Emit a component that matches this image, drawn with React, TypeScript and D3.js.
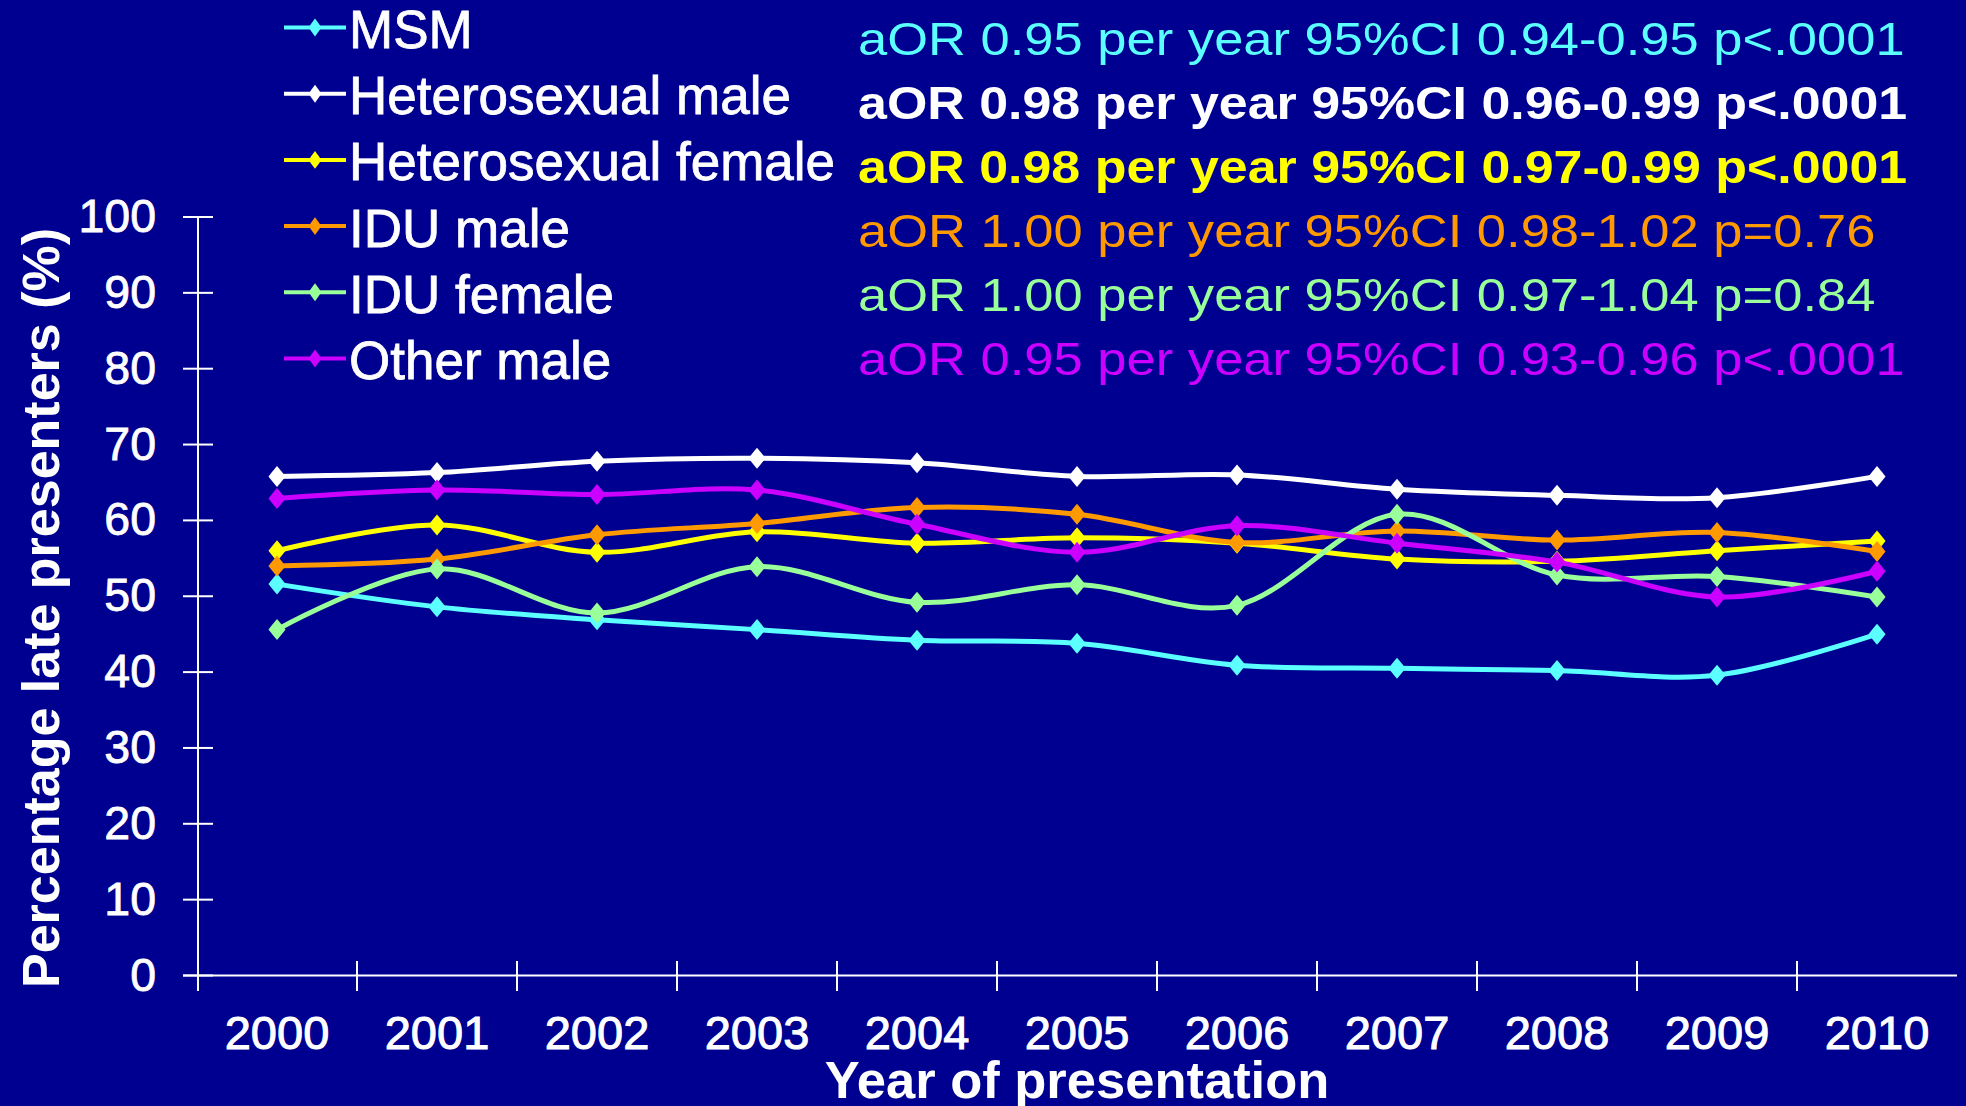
import React from "react";
import * as d3 from "d3";

const years = ["2000", "2001", "2002", "2003", "2004", "2005", "2006", "2007", "2008", "2009", "2010"];

const msm = [51.6, 48.6, 46.9, 45.6, 44.2, 43.8, 40.9, 40.5, 40.2, 39.6, 45.0];
const heteroMale = [65.8, 66.3, 67.8, 68.2, 67.6, 65.8, 66.0, 64.1, 63.3, 63.0, 65.8];
const heteroFemale = [56.0, 59.4, 55.8, 58.5, 57.0, 57.7, 57.0, 54.9, 54.6, 56.0, 57.3];
const iduMale = [54.0, 54.9, 58.1, 59.6, 61.7, 60.8, 57.1, 58.6, 57.4, 58.4, 55.9];
const iduFemale = [45.6, 53.6, 47.8, 53.9, 49.2, 51.5, 48.8, 60.8, 52.8, 52.6, 49.9];
const otherMale = [62.9, 64.0, 63.4, 64.0, 59.5, 55.8, 59.3, 57.0, 54.5, 49.9, 53.3];

const seriesNames = ["MSM", "Heterosexual male", "Heterosexual female", "IDU male", "IDU female", "Other male"];
const seriesValues = [msm, heteroMale, heteroFemale, iduMale, iduFemale, otherMale];
const seriesColors = ["#5CFFFF", "#FFFFFF", "#FFFF00", "#FF9900", "#99FF99", "#CC00FF"];

const statsTexts = [
  "aOR 0.95 per year 95%CI 0.94-0.95 p<.0001",
  "aOR 0.98 per year 95%CI 0.96-0.99 p<.0001",
  "aOR 0.98 per year 95%CI 0.97-0.99 p<.0001",
  "aOR 1.00 per year 95%CI 0.98-1.02 p=0.76",
  "aOR 1.00 per year 95%CI 0.97-1.04 p=0.84",
  "aOR 0.95 per year 95%CI 0.93-0.96 p<.0001",
];
const statsBold = [false, true, true, false, false, false];

const yTicks = [0, 10, 20, 30, 40, 50, 60, 70, 80, 90, 100];
const xTitle = "Year of presentation";
const yTitle = "Percentage late presenters (%)";

const BG = "#000090";
const FONT = "'Liberation Sans', Arial, Helvetica, sans-serif";
const W = 1966;
const H = 1106;

const markerPath = "M0,-10.5 Q5.5,-4 8.5,0 Q5.5,4 0,10.5 Q-5.5,4 -8.5,0 Q-5.5,-4 0,-10.5Z";

export default function App() {
  React.useEffect(() => {
    document.body.style.margin = "0";
    document.body.style.background = BG;
  }, []);

  const x = d3.scaleBand<string>().domain(years).range([197, 1957]).padding(0);
  const y = d3.scaleLinear().domain([0, 100]).range([975.5, 217]);
  const cx = (i: number) => (x(years[i]) as number) + x.bandwidth() / 2;

  const line = d3
    .line<number>()
    .x((_, i) => cx(i))
    .y((d) => y(d))
    .curve(d3.curveCardinal.tension(0));

  const boundaries = years.map((yr) => x(yr) as number).slice(1);

  return (
    <svg
      width={W}
      height={H}
      style={{ position: "absolute", left: 0, top: 0, display: "block", background: BG }}
      fontFamily={FONT}
    >
      <rect x={0} y={0} width={W} height={H} fill={BG} />

      {/* Y axis */}
      <line x1={198} x2={198} y1={y(100)} y2={991} stroke="#fff" strokeWidth={2} />
      {yTicks.map((t) => (
        <g key={t}>
          <line x1={183} x2={213} y1={y(t)} y2={y(t)} stroke="#fff" strokeWidth={2} />
          <text x={156} y={y(t) + 15} fill="#fff" stroke="#fff" strokeWidth={0.8} fontSize={46.5} textAnchor="end">
            {t}
          </text>
        </g>
      ))}

      {/* X axis */}
      <line x1={183} x2={1957} y1={y(0)} y2={y(0)} stroke="#fff" strokeWidth={2} />
      {boundaries.map((b, i) => (
        <line key={i} x1={b} x2={b} y1={961} y2={991} stroke="#fff" strokeWidth={2} />
      ))}
      {years.map((yr, i) => (
        <text key={yr} x={cx(i)} y={1049} fill="#fff" stroke="#fff" strokeWidth={1} fontSize={47} textAnchor="middle">
          {yr}
        </text>
      ))}

      {/* Axis titles */}
      <text x={1077} y={1098} fill="#fff" fontSize={52.5} fontWeight="bold" textAnchor="middle">
        {xTitle}
      </text>
      <text
        transform={`translate(59,608) rotate(-90)`}
        fill="#fff"
        fontSize={52}
        fontWeight="bold"
        textAnchor="middle"
      >
        {yTitle}
      </text>

      {/* Series */}
      {seriesValues.map((vals, s) => (
        <g key={seriesNames[s]}>
          <path d={line(vals) || ""} fill="none" stroke={seriesColors[s]} strokeWidth={5} />
          {vals.map((v, i) => (
            <path key={i} d={markerPath} transform={`translate(${cx(i)},${y(v)})`} fill={seriesColors[s]} />
          ))}
        </g>
      ))}

      {/* Legend */}
      {seriesNames.map((name, s) => {
        const base = 48 + 66.2 * s;
        const ly = base - 20.5;
        return (
          <g key={name}>
            <line x1={284} x2={346} y1={ly} y2={ly} stroke={seriesColors[s]} strokeWidth={4} />
            <path d={markerPath} transform={`translate(315,${ly}) scale(0.75,0.85)`} fill={seriesColors[s]} />
            <text x={349} y={base} fill="#fff" stroke="#fff" strokeWidth={0.8} fontSize={53}>
              {name}
            </text>
          </g>
        );
      })}

      {/* Stats */}
      {statsTexts.map((t, s) => (
        <text
          key={s}
          transform={`translate(858,${55 + 64 * s}) scale(${statsBold[s] ? 1.129 : 1.142},1)`}
          fill={seriesColors[s]}
          fontSize={46}
          fontWeight={statsBold[s] ? "bold" : "normal"}
        >
          {t}
        </text>
      ))}
    </svg>
  );
}
